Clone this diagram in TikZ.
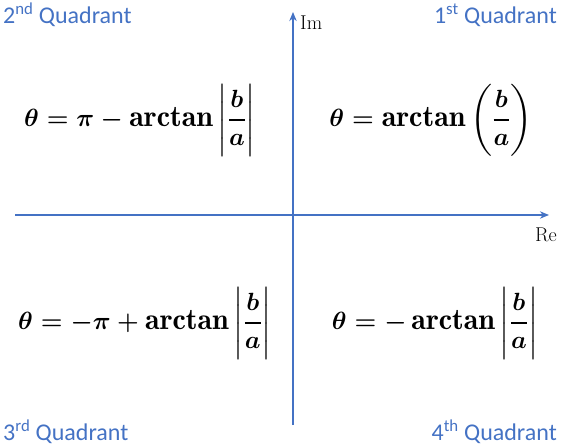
\documentclass[tikz,border=0pt]{standalone}
\usepackage{amsmath,amssymb}
\usepackage{fontspec}
\usetikzlibrary{arrows.meta,positioning}
\newfontfamily\quadfont{Carlito}
\definecolor{axisblue}{HTML}{4472C4}
\tikzset{axis/.style={-{Stealth[length=3.2mm,width=2.6mm]},line width=1.4pt,draw=axisblue},
  quad/.style={font=\quadfont\fontsize{24}{28}\selectfont,text=axisblue,inner sep=0pt},
  formula/.style={font=\fontsize{30}{36}\selectfont\boldmath,inner sep=0pt},
  axlabel/.style={font=\fontsize{20}{24}\selectfont,inner sep=0pt}}

\begin{document}
\begin{tikzpicture}[x=1pt,y=-1pt]
\useasboundingbox (0,0) rectangle (566,447);
\coordinate (xl) at (15,215);\coordinate (xr) at (549,215);
\coordinate (yb) at (293,425);\coordinate (yt) at (293,12);
\draw[axis] (xl)--(xr);\draw[axis] (yb)--(yt);
\node[axlabel,anchor=north east] (re) at (557,228) {Re};
\node[axlabel,anchor=west] (im) at (300,23) {Im};
\node[quad,anchor=west] (q2) at (3,15) {2\textsuperscript{nd} Quadrant};
\node[quad,anchor=east] (q1) at (557,15) {1\textsuperscript{st} Quadrant};
\node[quad,anchor=west] (q3) at (3,432) {3\textsuperscript{rd} Quadrant};
\node[quad,anchor=east] (q4) at (557,432) {4\textsuperscript{th} Quadrant};
\node[formula] (f2) at (140,120) {$\theta=\pi-\arctan\left|\dfrac{b}{a}\right|$};
\node[formula] (f1) at (431,120) {$\theta=\arctan\left(\dfrac{b}{a}\right)$};
\node[formula] (f3) at (145,323) {$\theta=-\pi+\arctan\left|\dfrac{b}{a}\right|$};
\node[formula] (f4) at (435,323) {$\theta=-\arctan\left|\dfrac{b}{a}\right|$};
\end{tikzpicture}
\end{document}
